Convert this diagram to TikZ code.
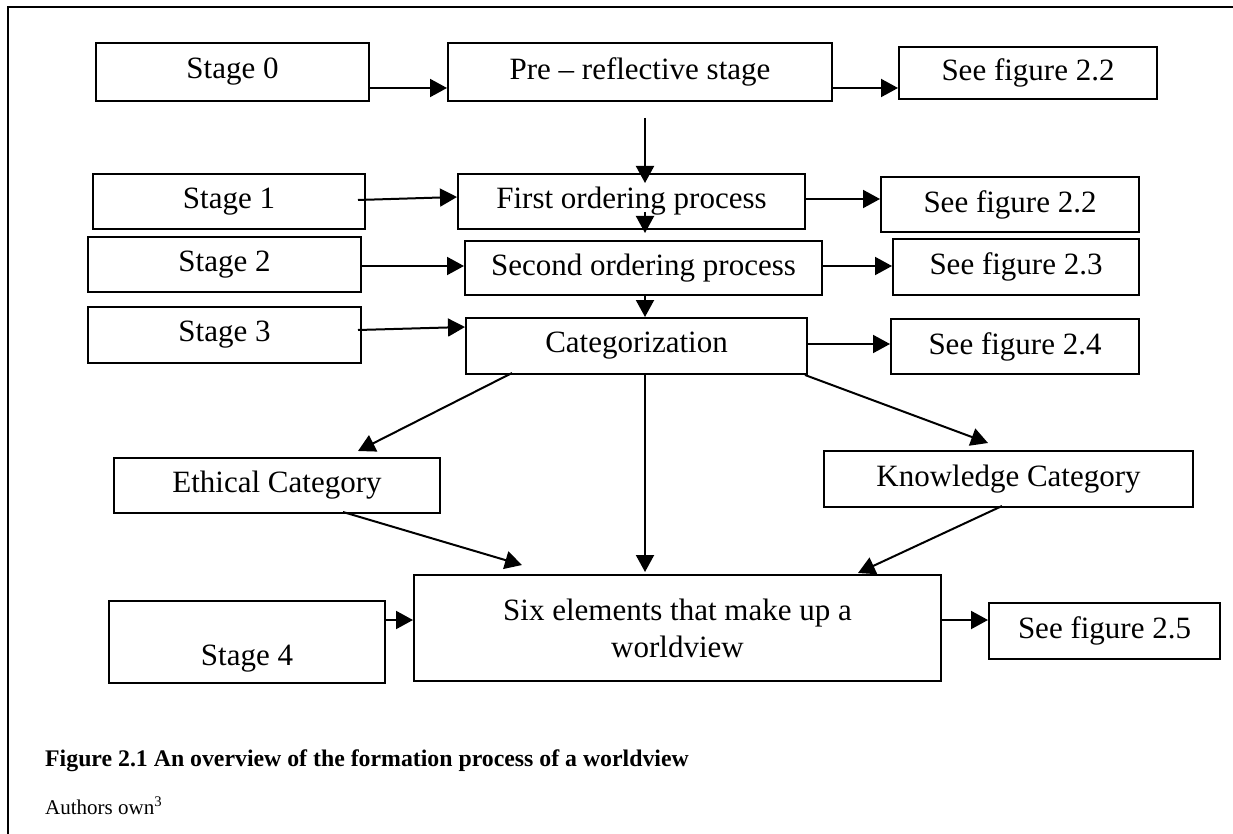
\documentclass[tikz,border=0pt]{standalone}
\usepackage{fontspec}
\setmainfont{Liberation Serif}
\usetikzlibrary{arrows.meta}
\begin{document}
\begin{tikzpicture}[x=1pt,y=-1pt,
  box/.style={draw=black, line width=2pt, anchor=north west, inner sep=0pt,
    font=\fontsize{31}{37}\selectfont, align=center},
  arr/.style={line width=2pt, -{Triangle[length=17pt,width=18pt]}},
  frameline/.style={line width=2.5pt}]
\useasboundingbox (0,0) rectangle (1233,834);
% frame
\draw[frameline] (8,834) -- (8,7) -- (1233,7);
% boxes
\node[box, minimum width=273pt, minimum height=58pt] (s0) at (95,42) {Stage 0};
\node[box, minimum width=384pt, minimum height=58pt] (pre) at (447,42) {Pre -- reflective stage};
\node[box, minimum width=258pt, minimum height=52pt] (f0) at (898,46) {See figure 2.2};
\node[box, minimum width=272pt, minimum height=55pt] (s1) at (92,173) {Stage 1};
\node[box, minimum width=347pt, minimum height=55pt] (first) at (457,173) {First ordering process};
\node[box, minimum width=258pt, minimum height=55pt] (f1) at (880,176) {See figure 2.2};
\node[box, minimum width=273pt, minimum height=55pt] (s2) at (87,236) {Stage 2};
\node[box, minimum width=357pt, minimum height=54pt] (second) at (464,240) {Second ordering process};
\node[box, minimum width=246pt, minimum height=56pt] (f2) at (892,238) {See figure 2.3};
\node[box, minimum width=273pt, minimum height=56pt] (s3) at (87,306) {Stage 3};
\node[box, minimum width=341pt, minimum height=56pt] (cat) at (465,317) {Categorization};
\node[box, minimum width=248pt, minimum height=55pt] (f3) at (890,318) {See figure 2.4};
\node[box, minimum width=326pt, minimum height=55pt] (eth) at (113,457) {Ethical Category};
\node[box, minimum width=369pt, minimum height=56pt] (know) at (823,450) {Knowledge Category};
\node[box, minimum width=527pt, minimum height=106pt] (six) at (413,574) {Six elements that make up a\\worldview};
\node[box, minimum width=276pt, minimum height=82pt, text height=46pt, text depth=0pt] (s4) at (108,600) {Stage 4};
\node[box, minimum width=231pt, minimum height=56pt] (f4) at (988,602) {See figure 2.5};
% captions
\node[anchor=base west, inner sep=0pt, font=\fontsize{23.8}{28}\selectfont\bfseries] (cap) at (45,766) {Figure 2.1 An overview of the formation process of a worldview};
\node[anchor=base west, inner sep=0pt, font=\fontsize{21}{25}\selectfont] (auth) at (45,814) {Authors own\textsuperscript{3}};
% connectors
\draw[arr] (s0.east |- 0,88) -- (pre.west |- 0,88);
\draw[arr] (pre.east |- 0,88) -- (f0.west |- 0,88);
\draw[arr] (645,118) -- (645,183);
\draw[arr] (358,200) -- (first.west |- 0,197);
\draw[arr] (first.east |- 0,199) -- (f1.west |- 0,199);
\draw[arr] (645,212) -- (645,233);
\draw[arr] (s2.east |- 0,266) -- (second.west |- 0,266);
\draw[arr] (second.east |- 0,266) -- (f2.west |- 0,266);
\draw[arr] (645,294) -- (645,317);
\draw[arr] (358,330) -- (cat.west |- 0,327);
\draw[arr] (cat.east |- 0,344) -- (f3.west |- 0,344);
\draw[arr] (512,373) -- (358,451);
\draw[arr] (805,375) -- (988,443);
\draw[arr] (645,373) -- (645,572);
\draw[arr] (343,512) -- (522,565);
\draw[arr] (1002,506) -- (858,573);
\draw[arr] (s4.east |- 0,620) -- (six.west |- 0,620);
\draw[arr] (six.east |- 0,620) -- (f4.west |- 0,620);
\end{tikzpicture}
\end{document}
